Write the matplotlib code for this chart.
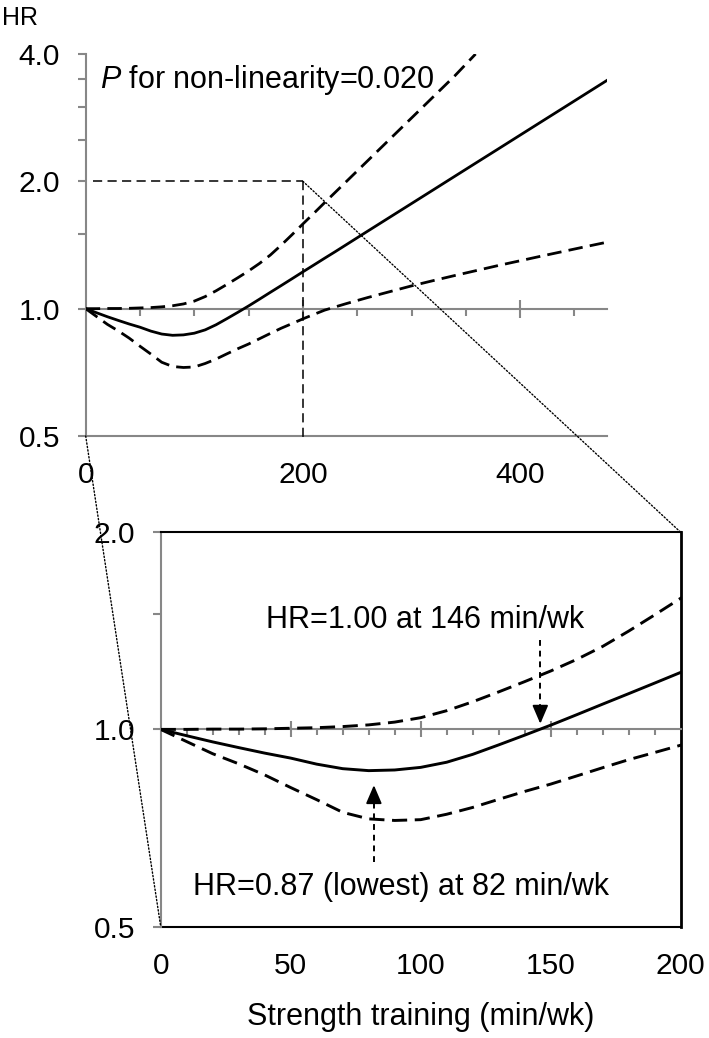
import matplotlib
matplotlib.use("Agg")
import matplotlib.pyplot as plt
from matplotlib.patches import ConnectionPatch
from matplotlib.ticker import NullFormatter

plt.rcParams["font.family"] = ["Liberation Sans", "DejaVu Sans"]
plt.rcParams["mathtext.fontset"] = "custom"
plt.rcParams["mathtext.it"] = "Liberation Sans:italic"
plt.rcParams["mathtext.rm"] = "Liberation Sans"

# strength training (min/wk) and hazard ratio
minutes = [0, 10, 20, 30, 40, 50, 60, 70, 80, 90, 100, 110, 120, 130, 140,
           150, 160, 170, 180, 190, 200, 210, 220, 230, 240, 260, 280, 300,
           320, 340, 360, 380, 400, 420, 440, 460, 480]
hr = [1.000, 0.978, 0.957, 0.938, 0.920, 0.904, 0.885, 0.871, 0.865, 0.867,
      0.875, 0.891, 0.916, 0.947, 0.980, 1.015, 1.053, 1.093, 1.134, 1.177,
      1.222, 1.268, 1.316, 1.365, 1.417, 1.527, 1.645, 1.772, 1.909, 2.057,
      2.216, 2.387, 2.572, 2.771, 2.985, 3.216, 3.465]
ci_low = [1.000, 0.958, 0.918, 0.886, 0.852, 0.815, 0.781, 0.747, 0.730,
          0.726, 0.728, 0.742, 0.760, 0.782, 0.804, 0.825, 0.849, 0.874,
          0.899, 0.922, 0.946, 0.969, 0.992, 1.010, 1.028, 1.063, 1.097,
          1.132, 1.165, 1.198, 1.231, 1.265, 1.298, 1.332, 1.366, 1.401,
          1.436]
# upper CI leaves the plot at HR=4.0 (~359 min/wk)
ci_up_minutes = [0, 10, 20, 30, 40, 50, 60, 70, 80, 90, 100, 110, 120, 130,
                 140, 150, 160, 170, 180, 190, 200, 210, 220, 240, 260, 280,
                 300, 320, 340, 359]
ci_up = [1.000, 1.000, 1.001, 1.001, 1.002, 1.004, 1.006, 1.010, 1.016,
         1.026, 1.042, 1.068, 1.102, 1.141, 1.183, 1.228, 1.279, 1.339,
         1.413, 1.496, 1.586, 1.680, 1.781, 1.998, 2.242, 2.516, 2.823,
         3.168, 3.555, 4.000]

top_xticks = [0, 200, 400]
top_yticks = [0.5, 1.0, 2.0, 4.0]
top_yticklabels = ["0.5", "1.0", "2.0", "4.0"]
top_yminor = [1.5, 2.5, 3.0, 3.5]
zoom_xticks = [0, 50, 100, 150, 200]
zoom_yticks = [0.5, 1.0, 2.0]
zoom_yticklabels = ["0.5", "1.0", "2.0"]

min_hr_x, min_hr = 82, 0.87
null_hr_x = 146

GRAY = "#878787"
TICK_FS = 21.5
TEXT_FS = 22
W, H = 709, 1038
fig = plt.figure(figsize=(W / 100, H / 100), dpi=100)

ax_top = fig.add_axes([85.7 / W, 1 - 436 / H, 521.3 / W, 382 / H])
ax_bot = fig.add_axes([160.7 / W, 1 - 926.5 / H, 520 / W, 394.2 / H])


def style_axes(ax, xlim, ylim, xticks, major_x, minor_x, yticks, ylabels,
               yminor, major_len, minor_len, frame_color):
    ax.set_yscale("log")
    ax.set_xlim(*xlim)
    ax.set_ylim(*ylim)
    ax.patch.set_alpha(0)
    # HR = 1 reference line carries the x ticks
    ax.spines["bottom"].set_position(("data", 1.0))
    ax.spines["bottom"].set_color(GRAY)
    ax.spines["bottom"].set_linewidth(1.5)
    ax.spines["left"].set_color(GRAY)
    ax.spines["left"].set_linewidth(1.5)
    ax.set_xticks(major_x)
    ax.set_xticks(minor_x, minor=True)
    ax.tick_params(axis="x", which="major", direction="inout", length=major_len,
                   width=1.5, color=GRAY, labelbottom=False)
    ax.tick_params(axis="x", which="minor", direction="out", length=minor_len,
                   width=1.5, color=GRAY)
    ax.set_yticks(yticks, ylabels)
    ax.set_yticks(yminor, minor=True)
    ax.yaxis.set_minor_formatter(NullFormatter())
    ax.tick_params(axis="y", which="both", direction="out", length=5.5,
                   width=1.5, color=GRAY, labelsize=TICK_FS, pad=13)
    # tick labels along the bottom edge
    sec = ax.secondary_xaxis(0.0)
    sec.set_xticks(xticks)
    sec.tick_params(length=0, labelsize=TICK_FS, pad=18)
    sec.spines["bottom"].set_color(frame_color)
    sec.spines["bottom"].set_linewidth(1.5)
    return sec


style_axes(ax_top, (0, 480), (0.5, 4.0), top_xticks, [200, 400],
           [50, 100, 150, 250, 300, 350, 450], top_yticks, top_yticklabels,
           top_yminor, 13.5, 5, GRAY)
ax_top.spines["top"].set_visible(False)
ax_top.spines["right"].set_visible(False)

sec_bot = style_axes(ax_bot, (0, 200), (0.5, 2.0), zoom_xticks, [50, 100, 150],
                     [v for v in range(10, 200, 10) if v % 50], zoom_yticks,
                     zoom_yticklabels, [1.5], 12, 4.5, "black")
ax_bot.spines["top"].set_color("black")
ax_bot.spines["top"].set_linewidth(1.5)
ax_bot.spines["right"].set_color("black")
ax_bot.spines["right"].set_linewidth(2.0)
sec_bot.set_xlabel("Strength training (min/wk)", fontsize=TEXT_FS, labelpad=16)

dash = (0, (5.2, 2.6))
for ax, lw in ((ax_top, 2.0), (ax_bot, 2.1)):
    ax.plot(minutes, hr, color="black", lw=lw, zorder=4)
    ax.plot(minutes, ci_low, color="black", lw=lw, ls=dash, zorder=4)
    ax.plot(ci_up_minutes, ci_up, color="black", lw=lw, ls=dash, zorder=4)

# zoom window marker in the top panel
ax_top.plot([6.7, 200], [2.0, 2.0], color="black", lw=1.1, ls=(0, (6, 3.5)))
ax_top.plot([200, 200], [2.0, 0.484], color="black", lw=1.1,
            ls=(0, (6, 3.5)), clip_on=False)

ax_top.text(0.027, 0.932, r"$\it{P}$ for non-linearity=0.020",
            transform=ax_top.transAxes, fontsize=TEXT_FS, va="center", ha="left")
fig.text(20 / W, 1 - 18 / H, "HR", fontsize=18, ha="center", va="center")

# annotations in the zoomed panel
head = dict(arrowstyle="-|>,head_length=0.7,head_width=0.3", color="black",
            lw=1.4, shrinkA=0, shrinkB=0, mutation_scale=16)
ax_bot.plot([null_hr_x, null_hr_x], [1.369, 1.06], color="black", lw=1.4,
            ls=(0, (3, 2.5)))
ax_bot.annotate("", xy=(null_hr_x, 1.02), xytext=(null_hr_x, 1.07),
                arrowprops=head)
ax_bot.text(101.7, 1.469, f"HR=1.00 at {null_hr_x} min/wk", fontsize=TEXT_FS,
            ha="center", va="center")

ax_bot.plot([min_hr_x, min_hr_x], [0.628, 0.79], color="black", lw=1.4,
            ls=(0, (3, 2.5)))
ax_bot.annotate("", xy=(min_hr_x, 0.822), xytext=(min_hr_x, 0.78),
                arrowprops=head)
ax_bot.text(92.4, 0.575, f"HR={min_hr:.2f} (lowest) at {min_hr_x} min/wk",
            fontsize=TEXT_FS, ha="center", va="center")

# dotted connectors between the panels
for xa, ya, xb, yb in ((200, 2.0, 200, 2.0), (0, 0.5, 0, 0.5)):
    con = ConnectionPatch(xyA=(xa, ya), coordsA=ax_top.transData,
                          xyB=(xb, yb), coordsB=ax_bot.transData,
                          color="black", lw=1.0, ls=(0, (1, 1.5)), zorder=10)
    fig.add_artist(con)

fig.savefig("out.png", dpi=100)
